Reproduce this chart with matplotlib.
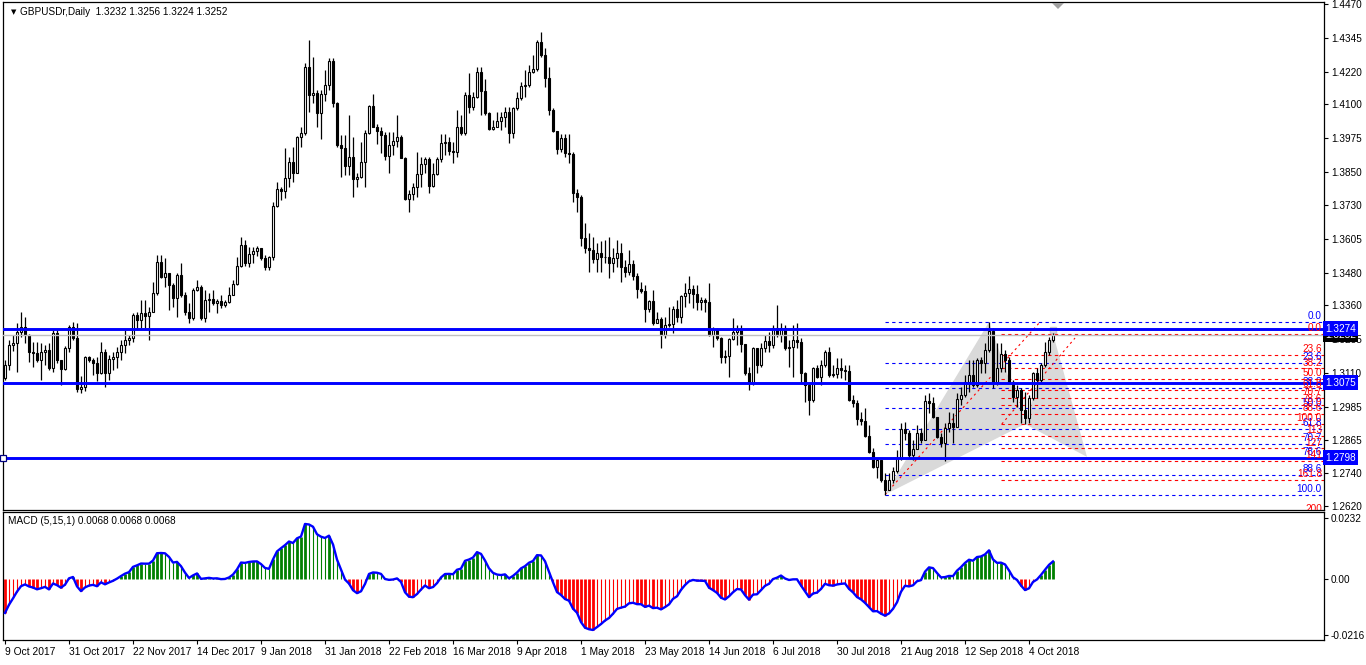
import numpy as np
import matplotlib.pyplot as plt
from matplotlib.patches import Polygon
from matplotlib.transforms import IdentityTransform

plt.rcParams['font.family'] = ['Liberation Sans', 'DejaVu Sans']

# GBPUSD daily bars, 9 Oct 2017 .. 12 Oct 2018 (open = previous close)
first_open = 1.3091
close_px = [
    1.3140, 1.3213, 1.3222, 1.3263, 1.3281, 1.3250, 1.3189, 1.3185, 1.3158, 1.3189,  # 0
    1.3195, 1.3128, 1.3256, 1.3158, 1.3125, 1.3201, 1.3281, 1.3238, 1.3053, 1.3060,  # 10
    1.3170, 1.3158, 1.3146, 1.3109, 1.3189, 1.3109, 1.3160, 1.3168, 1.3189, 1.3213,  # 20
    1.3232, 1.3238, 1.3324, 1.3305, 1.3332, 1.3322, 1.3336, 1.3404, 1.3520, 1.3465,  # 30
    1.3477, 1.3434, 1.3385, 1.3471, 1.3398, 1.3336, 1.3311, 1.3416, 1.3428, 1.3311,  # 40
    1.3379, 1.3383, 1.3367, 1.3377, 1.3361, 1.3373, 1.3398, 1.3437, 1.3504, 1.3582,  # 50
    1.3515, 1.3548, 1.3560, 1.3570, 1.3533, 1.3502, 1.3536, 1.3726, 1.3787, 1.3782,  # 60
    1.3827, 1.3887, 1.3849, 1.3979, 1.3993, 1.4237, 1.4135, 1.4141, 1.4067, 1.4137,  # 70
    1.4172, 1.4260, 1.4106, 1.3950, 1.3941, 1.3874, 1.3906, 1.3824, 1.3832, 1.3887,  # 80
    1.3993, 1.4094, 1.4018, 1.4002, 1.3988, 1.3911, 1.3950, 1.3965, 1.3981, 1.3904,  # 90
    1.3751, 1.3770, 1.3794, 1.3844, 1.3881, 1.3899, 1.3801, 1.3844, 1.3898, 1.3957,  # 100
    1.3960, 1.3930, 1.3926, 1.4016, 1.3995, 1.4135, 1.4089, 1.4126, 1.4221, 1.4151,  # 110
    1.4067, 1.4009, 1.4018, 1.4040, 1.4052, 1.4073, 1.3996, 1.4085, 1.4122, 1.4168,  # 120
    1.4172, 1.4221, 1.4229, 1.4331, 1.4282, 1.4196, 1.4079, 1.4003, 1.3934, 1.3975,  # 130
    1.3920, 1.3917, 1.3772, 1.3760, 1.3606, 1.3570, 1.3564, 1.3529, 1.3551, 1.3539,  # 140
    1.3536, 1.3514, 1.3535, 1.3551, 1.3500, 1.3484, 1.3511, 1.3468, 1.3418, 1.3413,  # 150
    1.3345, 1.3375, 1.3296, 1.3308, 1.3250, 1.3287, 1.3291, 1.3345, 1.3316, 1.3394,  # 160
    1.3406, 1.3418, 1.3401, 1.3373, 1.3378, 1.3373, 1.3250, 1.3271, 1.3238, 1.3168,  # 170
    1.3173, 1.3234, 1.3262, 1.3268, 1.3217, 1.3109, 1.3075, 1.3201, 1.3140, 1.3201,  # 180
    1.3228, 1.3213, 1.3275, 1.3250, 1.3275, 1.3201, 1.3205, 1.3232, 1.3226, 1.3111,  # 190
    1.3066, 1.3011, 1.3127, 1.3094, 1.3140, 1.3189, 1.3103, 1.3106, 1.3127, 1.3122,  # 200
    1.3119, 1.3011, 1.2998, 1.2939, 1.2932, 1.2878, 1.2820, 1.2765, 1.2790, 1.2716,  # 210
    1.2680, 1.2714, 1.2749, 1.2796, 1.2903, 1.2890, 1.2808, 1.2830, 1.2888, 1.2863,  # 220
    1.3006, 1.3000, 1.2949, 1.2876, 1.2851, 1.2906, 1.2925, 1.2912, 1.3016, 1.3029,  # 230
    1.3078, 1.3103, 1.3066, 1.3158, 1.3146, 1.3195, 1.3266, 1.3078, 1.3127, 1.3180,  # 240
    1.3158, 1.3078, 1.3023, 1.3048, 1.2974, 1.2945, 1.3017, 1.3109, 1.3084, 1.3140,  # 250
    1.3189, 1.3232, 1.3252,                                                          # 260
]
high_px = [
    1.3158, 1.3232, 1.3252, 1.3293, 1.3336, 1.3318, 1.3255, 1.3226, 1.3226, 1.3220,
    1.3213, 1.3220, 1.3269, 1.3269, 1.3158, 1.3210, 1.3287, 1.3299, 1.3296, 1.3099,
    1.3173, 1.3173, 1.3164, 1.3170, 1.3225, 1.3200, 1.3176, 1.3189, 1.3207, 1.3232,
    1.3269, 1.3250, 1.3330, 1.3336, 1.3379, 1.3379, 1.3355, 1.3447, 1.3545, 1.3545,
    1.3533, 1.3477, 1.3440, 1.3477, 1.3514, 1.3410, 1.3367, 1.3422, 1.3453, 1.3434,
    1.3416, 1.3404, 1.3416, 1.3383, 1.3398, 1.3379, 1.3428, 1.3453, 1.3539, 1.3612,
    1.3600, 1.3575, 1.3575, 1.3580, 1.3570, 1.3545, 1.3540, 1.3742, 1.3815, 1.3797,
    1.3938, 1.3907, 1.3944, 1.3984, 1.4018, 1.4254, 1.4337, 1.4276, 1.4153, 1.4153,
    1.4227, 1.4270, 1.4270, 1.4110, 1.3987, 1.3987, 1.4061, 1.3979, 1.3846, 1.3963,
    1.4006, 1.4098, 1.4138, 1.4028, 1.4018, 1.3999, 1.3999, 1.3999, 1.4061, 1.3987,
    1.3907, 1.3785, 1.3809, 1.3926, 1.3907, 1.3907, 1.3907, 1.3883, 1.3907, 1.3991,
    1.3991, 1.3981, 1.3963, 1.4079, 1.4061, 1.4147, 1.4215, 1.4147, 1.4239, 1.4239,
    1.4192, 1.4073, 1.4043, 1.4073, 1.4073, 1.4092, 1.4092, 1.4092, 1.4147, 1.4184,
    1.4227, 1.4245, 1.4282, 1.4337, 1.4368, 1.4307, 1.4239, 1.4085, 1.3996, 1.3991,
    1.3991, 1.3991, 1.3926, 1.3787, 1.3766, 1.3662, 1.3625, 1.3613, 1.3588, 1.3598,
    1.3600, 1.3613, 1.3570, 1.3600, 1.3588, 1.3527, 1.3564, 1.3527, 1.3477, 1.3447,
    1.3434, 1.3381, 1.3416, 1.3336, 1.3318, 1.3318, 1.3355, 1.3357, 1.3379, 1.3398,
    1.3441, 1.3468, 1.3434, 1.3434, 1.3392, 1.3385, 1.3441, 1.3281, 1.3275, 1.3244,
    1.3195, 1.3238, 1.3312, 1.3287, 1.3287, 1.3217, 1.3134, 1.3207, 1.3201, 1.3219,
    1.3250, 1.3262, 1.3287, 1.3361, 1.3293, 1.3287, 1.3232, 1.3287, 1.3293, 1.3238,
    1.3115, 1.3072, 1.3134, 1.3140, 1.3158, 1.3195, 1.3207, 1.3140, 1.3164, 1.3164,
    1.3140, 1.3140, 1.3029, 1.3011, 1.2968, 1.2980, 1.2918, 1.2832, 1.2796, 1.2771,
    1.2741, 1.2741, 1.2765, 1.2826, 1.2925, 1.2928, 1.2900, 1.2863, 1.2918, 1.2906,
    1.3029, 1.3035, 1.3023, 1.2937, 1.2888, 1.2925, 1.2968, 1.2962, 1.3035, 1.3060,
    1.3103, 1.3158, 1.3158, 1.3164, 1.3170, 1.3219, 1.3298, 1.3275, 1.3219, 1.3219,
    1.3195, 1.3170, 1.3084, 1.3066, 1.3054, 1.3041, 1.3029, 1.3115, 1.3127, 1.3146,
    1.3226, 1.3244, 1.3256,
]
low_px = [
    1.3084, 1.3121, 1.3193, 1.3115, 1.3244, 1.3220, 1.3152, 1.3134, 1.3152, 1.3084,
    1.3140, 1.3121, 1.3115, 1.3146, 1.3066, 1.3121, 1.3189, 1.3232, 1.3041, 1.3037,
    1.3045, 1.3151, 1.3103, 1.3080, 1.3105, 1.3060, 1.3085, 1.3121, 1.3127, 1.3158,
    1.3183, 1.3213, 1.3226, 1.3269, 1.3275, 1.3275, 1.3232, 1.3336, 1.3398, 1.3460,
    1.3428, 1.3342, 1.3355, 1.3318, 1.3392, 1.3324, 1.3293, 1.3305, 1.3414, 1.3305,
    1.3299, 1.3336, 1.3361, 1.3330, 1.3348, 1.3355, 1.3367, 1.3398, 1.3434, 1.3500,
    1.3505, 1.3500, 1.3514, 1.3540, 1.3527, 1.3490, 1.3490, 1.3525, 1.3721, 1.3748,
    1.3754, 1.3797, 1.3815, 1.3852, 1.3944, 1.3987, 1.4073, 1.4104, 1.4018, 1.3971,
    1.4114, 1.4153, 1.4092, 1.3944, 1.3831, 1.3840, 1.3840, 1.3758, 1.3797, 1.3828,
    1.3794, 1.3991, 1.4016, 1.3954, 1.3922, 1.3895, 1.3848, 1.3914, 1.3944, 1.3901,
    1.3748, 1.3705, 1.3748, 1.3760, 1.3797, 1.3846, 1.3772, 1.3797, 1.3840, 1.3889,
    1.3914, 1.3914, 1.3883, 1.3905, 1.3987, 1.3987, 1.4067, 1.4079, 1.4122, 1.4061,
    1.4061, 1.4006, 1.4006, 1.4018, 1.4006, 1.4018, 1.3959, 1.3975, 1.4079, 1.4116,
    1.4128, 1.4165, 1.4214, 1.4223, 1.4276, 1.4165, 1.4061, 1.3999, 1.3917, 1.3926,
    1.3907, 1.3885, 1.3742, 1.3705, 1.3578, 1.3551, 1.3484, 1.3514, 1.3484, 1.3484,
    1.3514, 1.3459, 1.3484, 1.3502, 1.3447, 1.3465, 1.3471, 1.3453, 1.3385, 1.3404,
    1.3299, 1.3336, 1.3287, 1.3293, 1.3201, 1.3238, 1.3281, 1.3256, 1.3299, 1.3293,
    1.3355, 1.3367, 1.3349, 1.3343, 1.3343, 1.3336, 1.3245, 1.3207, 1.3232, 1.3146,
    1.3146, 1.3097, 1.3232, 1.3213, 1.3189, 1.3103, 1.3048, 1.3066, 1.3109, 1.3134,
    1.3189, 1.3189, 1.3201, 1.3244, 1.3226, 1.3195, 1.3134, 1.3097, 1.3201, 1.3072,
    1.3005, 1.2956, 1.3005, 1.3091, 1.3066, 1.3134, 1.3097, 1.3097, 1.3091, 1.3091,
    1.3085, 1.3008, 1.2986, 1.2918, 1.2919, 1.2876, 1.2815, 1.2760, 1.2722, 1.2710,
    1.2662, 1.2680, 1.2704, 1.2741, 1.2790, 1.2862, 1.2796, 1.2790, 1.2833, 1.2851,
    1.2863, 1.2962, 1.2943, 1.2870, 1.2839, 1.2784, 1.2894, 1.2851, 1.2912, 1.2992,
    1.3023, 1.3041, 1.3060, 1.3060, 1.3109, 1.3109, 1.3189, 1.3054, 1.3066, 1.3115,
    1.3115, 1.3072, 1.3004, 1.2986, 1.2925, 1.2922, 1.2925, 1.3011, 1.3017, 1.3078,
    1.3134, 1.3176, 1.3224,
]

date_labels = ['9 Oct 2017', '31 Oct 2017', '22 Nov 2017', '14 Dec 2017', '9 Jan 2018',
               '31 Jan 2018', '22 Feb 2018', '16 Mar 2018', '9 Apr 2018', '1 May 2018',
               '23 May 2018', '14 Jun 2018', '6 Jul 2018', '30 Jul 2018', '21 Aug 2018',
               '12 Sep 2018', '4 Oct 2018']
price_ticks = [1.4470, 1.4345, 1.4220, 1.4100, 1.3975, 1.3850, 1.3730, 1.3605,
               1.3480, 1.3360, 1.3235, 1.3110, 1.2985, 1.2865, 1.2740, 1.2620]
level_lines = [1.3274, 1.3075, 1.2798]
bid_price = 1.3252

fib_blue_levels = [0.0, 23.6, 38.2, 50.0, 61.8, 70.7, 78.6, 88.6, 100.0]
fib_blue_hi, fib_blue_lo = 1.3298, 1.2662
fib_red_levels = [0.0, 23.6, 38.2, 50.0, 61.8, 70.7, 78.6, 88.6, 100.0, 113, 127, 141, 161.8, 200]
fib_red_hi, fib_red_lo = 1.3255, 1.2922

macd_first = -0.0130   # MACD value at the first visible bar
macd_ticks = [0.0232, 0.0, -0.0216]
macd_tick_labels = ['0.0232', '0.00', '-0.0216']

# ---------------- layout (pixels) ----------------
W, H = 1366, 665
L, R = 3, 1324
MAIN_T, MAIN_B = 2, 510
SUB_T, SUB_B = 512, 640
FS = 7.2

fig = plt.figure(figsize=(W / 100, H / 100), dpi=100)
fig.patch.set_facecolor('white')


def add_ax(top, bottom):
    return fig.add_axes([L / W, 1 - bottom / H, (R - L) / W, (bottom - top) / H])


def px2price(y):
    return 1.4470 - (y - 4) / 2713.5


xlim = ((L - 5) / 4, (R - 5) / 4)

ax = add_ax(MAIN_T, MAIN_B)
ax.set_xlim(*xlim)
ax.set_ylim(px2price(MAIN_B), px2price(MAIN_T))

c = np.array(close_px)
h = np.array(high_px)
l = np.array(low_px)
o = np.concatenate([[first_open], c[:-1]])
h = np.maximum(h, np.maximum(o, c))
l = np.minimum(l, np.minimum(o, c))
x = np.arange(len(c))
up = c >= o

# harmonic pattern shading
pat1 = Polygon([(220, fib_blue_lo), (246, fib_blue_hi), (255, fib_red_lo)],
               closed=True, fc='#d9d9d9', ec='none', zorder=1)
pat2 = Polygon([(255, fib_red_lo), (262, fib_red_hi), (270.5, 1.2801)],
               closed=True, fc='#d9d9d9', ec='none', zorder=1)
ax.add_patch(pat1)
ax.add_patch(pat2)
ax.plot([262], [1.3269], marker='s', ms=5, mfc='#d9d9d9', mec='#c8c8c8', zorder=1)

# fibonacci levels
right_lab = 1 - 2 / (R - L)
for lev in fib_blue_levels:
    p = fib_blue_hi - (fib_blue_hi - fib_blue_lo) * lev / 100
    ax.hlines(p, 220, xlim[1], colors='#0000ff', lw=0.8, linestyles=(0, (3, 3)), zorder=2)
    ax.text(right_lab, p + 0.00025, f'{lev:.1f}', transform=ax.get_yaxis_transform(),
            ha='right', va='bottom', color='#0000ff', fontsize=FS, zorder=6)
for lev in fib_red_levels:
    p = fib_red_hi - (fib_red_hi - fib_red_lo) * lev / 100
    lab = f'{lev:.1f}' if lev in (0, 23.6, 38.2, 50, 61.8, 70.7, 78.6, 88.6, 100, 161.8) else f'{lev:g}'
    ax.hlines(p, 249, xlim[1], colors='#ff0000', lw=0.8, linestyles=(0, (3, 3)), zorder=2)
    ax.text(right_lab, p + 0.00025, lab, transform=ax.get_yaxis_transform(),
            ha='right', va='bottom', color='#ff0000', fontsize=FS, zorder=6, clip_on=True)
ax.plot([220, 258.75], [fib_blue_lo, fib_blue_hi], color='#ff0000', lw=0.8,
        ls=(0, (2, 3)), zorder=2)
ax.plot([249.2, 267.5], [fib_red_lo, 1.3239], color='#ff0000', lw=0.8,
        ls=(0, (2, 3)), zorder=2)

# candles
ax.vlines(x, l, h, color='black', lw=0.9, zorder=3)
body = np.maximum(np.abs(c - o), 0.00004)
ax.bar(x, body, bottom=np.minimum(o, c), width=0.72,
       color=np.where(up, 'white', 'black'), edgecolor='black', linewidth=0.8, zorder=4)

# horizontal lines
ax.axhline(bid_price, color='#c0c0c0', lw=1, zorder=4.5)
for v in level_lines:
    ax.axhline(v, color='#0000ff', lw=2.1, zorder=5)
ax.plot([-0.5], [level_lines[2]], marker='s', ms=4, mfc='white', mec='#000080',
        mew=0.9, zorder=6, clip_on=False)

# right price axis
ax.yaxis.tick_right()
ax.set_yticks(price_ticks)
ax.set_yticklabels([f'{v:.4f}' for v in price_ticks])
ax.tick_params(axis='y', length=3, width=0.8, labelsize=FS, pad=2)
ax.set_xticks([])
for s in ax.spines.values():
    s.set_linewidth(0.9)
    s.set_color('black')

lab_x = 1 + 1 / (R - L)
ax.text(lab_x, bid_price, f'{bid_price:.4f}', transform=ax.get_yaxis_transform(),
        ha='left', va='center', color='white', fontsize=FS, zorder=7, clip_on=False,
        bbox=dict(boxstyle='square,pad=0.25', fc='black', ec='none'))
for v in level_lines:
    ax.text(lab_x, v, f'{v:.4f}', transform=ax.get_yaxis_transform(),
            ha='left', va='center', color='white', fontsize=FS, zorder=8, clip_on=False,
            bbox=dict(boxstyle='square,pad=0.25', fc='#0000ff', ec='none'))

# ---------------- MACD (5,15,1) ----------------
def ema(v, n, start):
    k = 2 / (n + 1)
    out = np.empty(len(v))
    out[0] = start
    for i in range(1, len(v)):
        out[i] = out[i - 1] + k * (v[i] - out[i - 1])
    return out


macd = ema(c, 5, c[0]) - ema(c, 15, c[0] - macd_first)

ax2 = add_ax(SUB_T, SUB_B)
ax2.set_xlim(*xlim)
ax2.set_ylim((579 - SUB_B) * 0.000383, (579 - SUB_T) * 0.000383)
prev = np.concatenate([[macd[0]], macd[:-1]])
growing = np.abs(macd) >= np.abs(prev)
colors = np.where(macd >= 0, '#008000', '#ff0000')
thick = growing
ax2.vlines(x[thick], 0, macd[thick], colors=colors[thick], lw=2.0, zorder=2)
ax2.vlines(x[~thick], 0, macd[~thick], colors=colors[~thick], lw=0.8, zorder=2)
ax2.plot(x, macd, color='#0000ff', lw=1.7, zorder=3)

ax2.yaxis.tick_right()
ax2.set_yticks(macd_ticks)
ax2.set_yticklabels(macd_tick_labels)
ax2.tick_params(axis='y', length=3, width=0.8, labelsize=FS, pad=2)
ax2.set_xticks(np.arange(len(date_labels)) * 16)
ax2.set_xticklabels(date_labels, ha='left')
ax2.tick_params(axis='x', length=3, width=0.8, labelsize=7.4, pad=2)
for s in ax2.spines.values():
    s.set_linewidth(0.9)
    s.set_color('black')

# ---------------- header texts ----------------
fig.text(11 / W, 1 - 12 / H, '\u25bc', fontsize=5, va='center', ha='left',
         family='DejaVu Sans')
fig.text(20 / W, 1 - 12 / H, 'GBPUSDr,Daily  1.3232 1.3256 1.3224 1.3252',
         fontsize=FS, va='center', ha='left')
fig.text(8 / W, 1 - 521 / H, 'MACD (5,15,1) 0.0068 0.0068 0.0068',
         fontsize=FS, va='center', ha='left')

# chart shift marker
fig.patches.append(Polygon([[1052, H - 3], [1064, H - 3], [1058, H - 9]], closed=True,
                           fc='#a0a0a0', ec='none', transform=IdentityTransform(),
                           figure=fig))

fig.savefig('out.png', dpi=100)
